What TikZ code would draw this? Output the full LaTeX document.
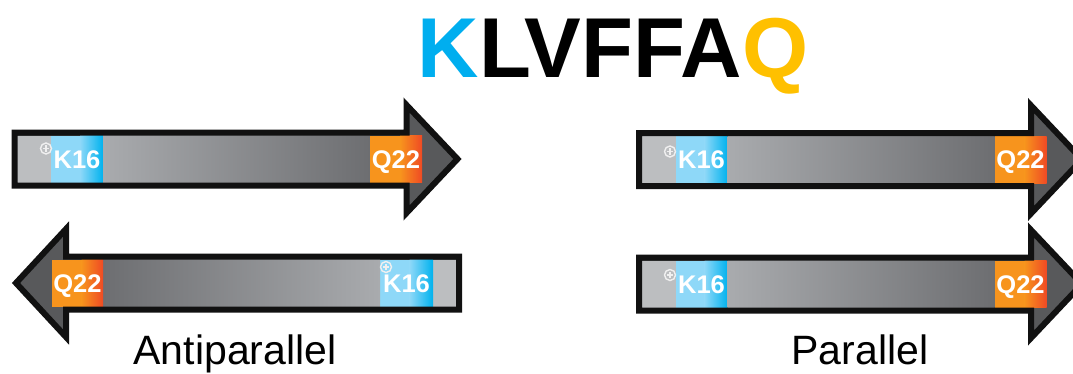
\documentclass[tikz,border=0pt]{standalone}
\usepackage{fontspec}
\setmainfont{Liberation Sans}

\definecolor{kCyan}{HTML}{00AEEF}
\definecolor{qAmber}{HTML}{FFC000}
\definecolor{blockBlueL}{HTML}{8ED8F8}
\definecolor{blockBlueD}{HTML}{00B2EE}
\definecolor{blockOrange}{HTML}{F7941D}
\definecolor{blockRed}{HTML}{EF4A24}
\definecolor{tailGray}{HTML}{BCBEC0}
\definecolor{shaftLight}{HTML}{A9ABAE}
\definecolor{shaftDark}{HTML}{6D6E71}
\definecolor{headGray}{HTML}{58595B}
\definecolor{rim}{HTML}{111111}

\tikzset{
  outline/.style={draw=rim, line width=6pt, line join=miter, miter limit=10},
  resname/.style={text=white, font=\fontsize{25.5}{30}\selectfont\bfseries, inner sep=0pt, anchor=base},
  charge/.style={draw=white!94!black, line width=1.4pt},
  caption/.style={font=\fontsize{41}{48}\selectfont, inner sep=0pt, anchor=base},
}

% small circled plus marking the charged lysine
\newcommand{\chargemark}[2]{%
  \draw[charge] (#1,#2) circle (5.5pt);
  \draw[charge] ({#1-3.2},#2) -- ({#1+3.2},#2) (#1,{#2-3.2}) -- (#1,{#2+3.2});
}

% strand pointing right: #1 = tail x, #2 = axis y, #3 = name prefix,
% #4,#5 = offset of the charge mark from (tail, axis)
\newcommand{\strandRight}[5]{%
  \begin{scope}
    \clip (#1,{#2+26.5}) -- ({#1+392},{#2+26.5}) -- ({#1+392},{#2+54}) -- ({#1+443},#2)
      -- ({#1+392},{#2-54}) -- ({#1+392},{#2-26.5}) -- (#1,{#2-26.5}) -- cycle;
    \fill[headGray] (#1,{#2-60}) rectangle ({#1+450},{#2+60});
    \fill[tailGray] (#1,{#2-23.5}) rectangle ({#1+36.5},{#2+23.5});
    \fill[blockBlueL] ({#1+36.5},{#2-23.5}) rectangle ({#1+66},{#2+23.5});
    \shade[left color=blockBlueL, right color=blockBlueD] ({#1+65.5},{#2-23.5}) rectangle ({#1+88.5},{#2+23.5});
    \shade[left color=shaftLight, right color=shaftDark] ({#1+88.5},{#2-23.5}) rectangle ({#1+355.5},{#2+23.5});
    \fill[blockOrange] ({#1+355.5},{#2-23.5}) rectangle ({#1+386},{#2+23.5});
    \shade[left color=blockOrange, right color=blockRed] ({#1+385.5},{#2-23.5}) rectangle ({#1+407.5},{#2+23.5});
  \end{scope}
  \chargemark{#1+#4}{#2+#5}
  \node[resname] (#3k) at ({#1+62.5},{#2-9}) {K16};
  \node[resname] (#3q) at ({#1+381.5},{#2-9}) {Q22};
  \draw[outline] (#1,{#2+26.5}) -- ({#1+392},{#2+26.5}) -- ({#1+392},{#2+54}) -- ({#1+443},#2)
    -- ({#1+392},{#2-54}) -- ({#1+392},{#2-26.5}) -- (#1,{#2-26.5}) -- cycle;
}

% strand pointing left: #1 = tail x (right end), #2 = axis y, #3 = name prefix,
% #4,#5 = offset of the charge mark from (tail, axis)
\newcommand{\strandLeft}[5]{%
  \begin{scope}
    \clip (#1,{#2+26.5}) -- ({#1-393},{#2+26.5}) -- ({#1-393},{#2+54}) -- ({#1-443},#2)
      -- ({#1-393},{#2-54}) -- ({#1-393},{#2-26.5}) -- (#1,{#2-26.5}) -- cycle;
    \fill[headGray] ({#1-450},{#2-60}) rectangle (#1,{#2+60});
    \fill[tailGray] ({#1-26},{#2-23.5}) rectangle (#1,{#2+23.5});
    \fill[blockBlueL] ({#1-79},{#2-23.5}) rectangle ({#1-49},{#2+23.5});
    \shade[left color=blockBlueL, right color=blockBlueD] ({#1-49.5},{#2-23.5}) rectangle ({#1-26},{#2+23.5});
    \shade[left color=shaftDark, right color=shaftLight] ({#1-356},{#2-23.5}) rectangle ({#1-79},{#2+23.5});
    \fill[blockOrange] ({#1-407},{#2-23.5}) rectangle ({#1-377},{#2+23.5});
    \shade[left color=blockOrange, right color=blockRed] ({#1-377.5},{#2-23.5}) rectangle ({#1-356},{#2+23.5});
  \end{scope}
  \chargemark{#1+#4}{#2+#5}
  \node[resname] (#3k) at ({#1-52.5},{#2-9}) {K16};
  \node[resname] (#3q) at ({#1-381.5},{#2-9}) {Q22};
  \draw[outline] (#1,{#2+26.5}) -- ({#1-393},{#2+26.5}) -- ({#1-393},{#2+54}) -- ({#1-443},#2)
    -- ({#1-393},{#2-54}) -- ({#1-393},{#2-26.5}) -- (#1,{#2-26.5}) -- cycle;
}

\begin{document}
\begin{tikzpicture}[x=1pt, y=1pt]
  \useasboundingbox (0,0) rectangle (1073,-373);
  \clip (0,0) rectangle (1073,-373);

  % peptide sequence
  \node[font=\fontsize{85}{92}\selectfont\bfseries, inner sep=0pt, anchor=base] (seq)
    at (613,-77) {\textcolor{kCyan}{K}LVFFA\textcolor{qAmber}{Q}};

  % antiparallel pair
  \strandRight{14.5}{-159}{ap1}{31.5}{10.5}
  \strandLeft{459}{-283}{ap2}{-73}{16}
  \node[caption] (antiLabel) at (235,-364) {Antiparallel};

  % parallel pair
  \strandRight{639}{-159.5}{pa1}{31}{8}
  \strandRight{639}{-284}{pa2}{31}{9}
  \node[caption] (paraLabel) at (860,-364) {Parallel};
\end{tikzpicture}
\end{document}
